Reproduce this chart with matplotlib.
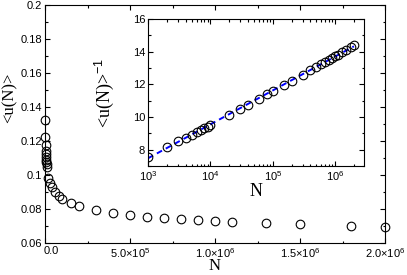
import numpy as np
import matplotlib
matplotlib.use("Agg")
import matplotlib.pyplot as plt
import matplotlib.transforms as mtransforms
from matplotlib.ticker import MultipleLocator, FixedLocator, FuncFormatter, LogLocator, NullFormatter

plt.rcParams["font.family"] = ["Liberation Sans", "DejaVu Sans"]
plt.rcParams["mathtext.fontset"] = "custom"
plt.rcParams["mathtext.rm"] = "Liberation Sans"
plt.rcParams["mathtext.it"] = "Liberation Sans:italic"
plt.rcParams["mathtext.default"] = "rm"
plt.rc("axes", unicode_minus=False)

# system sizes
N = [1e3, 2e3, 3e3, 4e3, 5e3, 6e3, 7e3, 8e3, 9e3, 1e4,
     2e4, 3e4, 4e4, 6e4, 8e4, 1e5, 1.5e5, 2e5, 3e5, 4e5,
     5e5, 6e5, 7e5, 8e5, 9e5, 1e6, 1.1e6, 1.3e6, 1.5e6, 1.8e6, 2e6]
# mean u(N)
u_mean = [0.1321, 0.1222, 0.1176, 0.1144, 0.1121, 0.1103, 0.1087, 0.1074, 0.1062, 0.1050,
          0.0985, 0.0952, 0.0931, 0.0899, 0.0877, 0.0861, 0.0835, 0.0818, 0.0794, 0.0778,
          0.0765, 0.0755, 0.0747, 0.0740, 0.0734, 0.0729, 0.0725, 0.0716, 0.0710, 0.0701, 0.0695]

main_xticks = [0, 5e5, 1e6, 1.5e6, 2e6]
main_xticklabels = ["0.0", r"5.0$\times$10$^5$", r"1.0$\times$10$^6$",
                    r"1.5$\times$10$^6$", r"2.0$\times$10$^6$"]

N = np.array(N)
u_mean = np.array(u_mean)
u_inv = 1.0 / u_mean

W, H = 407, 275
fig = plt.figure(figsize=(W / 100, H / 100), dpi=100)

serif = ["Liberation Serif", "DejaVu Serif"]
tick_kw = dict(direction="in", top=True, right=True, labelsize=8, width=0.8)

# main panel
ax = fig.add_axes([45 / W, 1 - 243 / H, 340 / W, 238 / H])
ax.plot(N, u_mean, "o", mfc="none", mec="black", ms=6.2, mew=0.8, clip_on=False)
ax.set_xlim(0, 2e6)
ax.set_ylim(0.06, 0.2)
ax.xaxis.set_major_locator(FixedLocator(main_xticks))
ax.set_xticklabels(main_xticklabels)
ax.xaxis.set_minor_locator(MultipleLocator(2.5e5))
ax.yaxis.set_major_locator(MultipleLocator(0.02))
ax.yaxis.set_minor_locator(MultipleLocator(0.01))
ax.yaxis.set_major_formatter(FuncFormatter(lambda v, p: "%g" % round(v, 3)))
ax.tick_params(which="major", length=3.6, pad=2, **tick_kw)
ax.tick_params(which="minor", length=1.8, direction="in", top=True, right=True, width=0.8)
# the "0.0" label sits a bit to the right of its tick
first = ax.get_xticklabels()[0]
first.set_transform(first.get_transform() +
                    mtransforms.ScaledTranslation(6 / 100, 0, fig.dpi_scale_trans))
ax.set_xlabel("N", family=serif, fontsize=12, labelpad=-1)
ax.set_ylabel("<u(N)>", family=serif, fontsize=12)
ax.yaxis.set_label_coords(-0.08, 0.61)
for s in ax.spines.values():
    s.set_linewidth(0.8)

# inset: inverse mean vs N on log scale
ins = fig.add_axes([148 / W, 1 - 166 / H, 216 / W, 147 / H])
slope, icpt = np.polyfit(np.log10(N), u_inv, 1)
ins.plot(N, icpt + slope * np.log10(N), "--", color="#0000ff", lw=1.4, dashes=(3, 2.2))
ins.plot(N, u_inv, "o", mfc="none", mec="black", ms=6.2, mew=0.8)
ins.set_xscale("log")
ins.set_xlim(1e3, 2.9e6)
ins.set_ylim(7, 16)
ins.xaxis.set_major_locator(LogLocator(base=10, numticks=10))
ins.xaxis.set_minor_locator(LogLocator(base=10, subs=np.arange(2, 10), numticks=20))
ins.xaxis.set_minor_formatter(NullFormatter())
ins.yaxis.set_major_locator(MultipleLocator(2))
ins.yaxis.set_minor_locator(MultipleLocator(1))
ins.tick_params(which="major", length=3.6, pad=2, **tick_kw)
ins.tick_params(which="minor", length=1.8, direction="in", top=True, right=True, width=0.8)
ins.set_xlabel("N", family=serif, fontsize=13, labelpad=0)
ins.set_ylabel(r"<u(N)>$^{-1}$", family=serif, fontsize=13)
ins.yaxis.set_label_coords(-0.15, 0.5)
for s in ins.spines.values():
    s.set_linewidth(0.8)

fig.savefig("out.png", dpi=100)
